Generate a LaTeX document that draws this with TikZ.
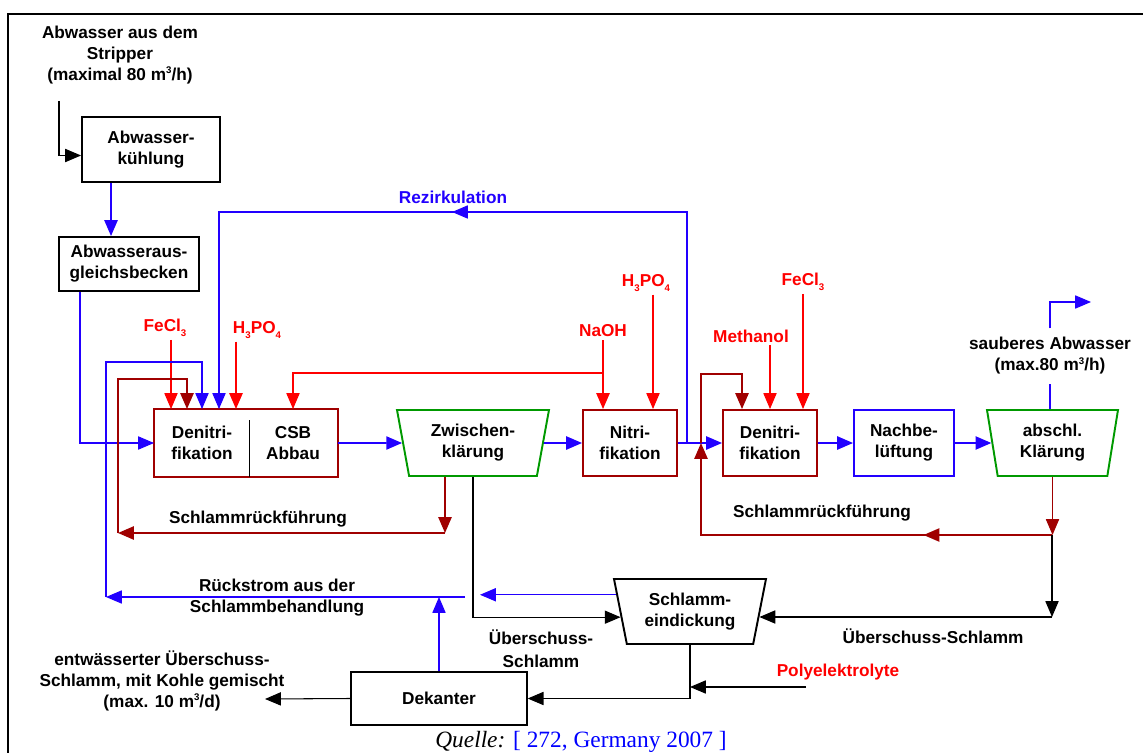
\documentclass[tikz,border=0pt]{standalone}
\usepackage{fontspec}
\setmainfont{Liberation Sans}
\newfontfamily\quellfont{Liberation Serif}
\usetikzlibrary{shapes.geometric,arrows.meta,positioning,calc,decorations.markings}

\definecolor{cfluss}{RGB}{34,0,255}
\definecolor{cdosis}{RGB}{255,0,0}
\definecolor{cschlamm}{RGB}{160,0,0}
\definecolor{cklaer}{RGB}{0,153,0}
\definecolor{cquelle}{RGB}{0,0,255}

% kleine Indizes
\newcommand\tief[1]{\raisebox{-0.55ex}{\fontsize{5.5}{6}\selectfont #1}}
\newcommand\hoch[1]{\raisebox{0.75ex}{\fontsize{5.5}{6}\selectfont #1}}

\tikzset{
  >={Triangle[length=9pt,width=7.5pt]},
  box/.style={draw, rectangle, line width=1.1pt, align=center, inner sep=0pt},
  klaerbecken/.style={trapezium, trapezium left angle=#1, trapezium right angle=#1,
    trapezium stretches body, draw, line width=1.1pt, align=center, inner sep=0pt},
  txt/.style={align=center, inner sep=1.5pt},
  chem/.style={txt, text=cdosis},
  fluss/.style={draw=cfluss, line width=1pt, ->},
  duenn/.style={draw=cfluss, line width=0.6pt, ->},
  dosis/.style={draw=cdosis, line width=0.6pt, ->},
  schlammweg/.style={draw=cschlamm, line width=1pt, ->},
  schwarzweg/.style={draw=black, line width=0.6pt, ->},
  pfeilmitte/.style={postaction={decorate, decoration={markings,
    mark=at position #1 with {\arrow{Triangle[length=9pt,width=7.5pt]}}}}}
}

\begin{document}
\begin{tikzpicture}[x=0.02cm, y=-0.02cm,
  every node/.style={font=\fontsize{9.8}{12}\selectfont\bfseries}]
\path[use as bounding box] (0,0) rectangle (1143,753);
\draw[line width=1.2pt] (1143,14) -- (8,14) -- (8,753);

% Zulauf und Vorbehandlung
\node[txt] (zulauf) at (120,55) {Abwasser aus dem\\Stripper\\(maximal 80 m\hoch{3}/h)};
\node[box, minimum width=2.76cm, minimum height=1.3cm] (kuehlung) at (151,149.5) {Abwasser-\\kühlung};
\node[box, minimum width=2.8cm, minimum height=1.08cm] (ausgleich) at (129,264) {Abwasseraus-\\gleichsbecken};

% Biologische Stufe 1
\node[box, draw=none, minimum width=1.88cm, minimum height=1.32cm] (deni1) at (202,443) {Denitri-\\fikation};
\node[box, draw=none, minimum width=1.76cm, minimum height=1.32cm] (csb) at (293,443) {CSB\\Abbau};
\draw[cschlamm, line width=1.1pt] (deni1.north west) rectangle (csb.south east);
\draw[line width=0.6pt] ([yshift=-0.22cm]deni1.north east) -- (deni1.south east);
\node[klaerbecken=108, draw=cklaer, minimum width=3.04cm, minimum height=1.32cm] (zwk) at (473,443) {Zwischen-\\klärung};

% Biologische Stufe 2
\node[box, draw=cschlamm, minimum width=1.88cm, minimum height=1.32cm] (nitri) at (630,443) {Nitri-\\fikation};
\node[box, draw=cschlamm, minimum width=1.88cm, minimum height=1.32cm] (deni2) at (770,443) {Denitri-\\fikation};
\node[box, draw=cfluss, minimum width=2cm, minimum height=1.32cm] (nachbel) at (904,443) {Nachbe-\\lüftung};
\node[klaerbecken=106, draw=cklaer, minimum width=2.62cm, minimum height=1.32cm] (abk) at (1052.5,443) {abschl.\\Klärung};

% Schlammbehandlung
\node[klaerbecken=109, minimum width=3.04cm, minimum height=1.3cm] (eindick) at (690,611.5) {Schlamm-\\eindickung};
\node[box, line width=0.8pt, minimum width=3.52cm, minimum height=1.06cm] (dekanter) at (439,698.5) {Dekanter};

% Beschriftungen
\node[txt, text=cfluss] (rezi) at (453,197) {Rezirkulation};
\node[chem] (fecl1) at (165,328) {FeCl\tief{3}};
\node[chem] (hpo1) at (257,330) {H\tief{3}PO\tief{4}};
\node[chem] (naoh) at (603,331) {NaOH};
\node[chem] (hpo2) at (646,283) {H\tief{3}PO\tief{4}};
\node[chem] (methanol) at (751,336) {Methanol};
\node[chem] (fecl2) at (803,282) {FeCl\tief{3}};
\node[txt] (sr1) at (258,519) {Schlammrückführung};
\node[txt] (sr2) at (822,513) {Schlammrückführung};
\node[txt, inner sep=5pt] (ablauf) at (1050,356) {sauberes Abwasser\\(max.80 m\hoch{3}/h)};
\node[txt] (rueckstrom) at (277,598) {Rückstrom aus der\\Schlammbehandlung};
\node[txt] (ues1) at (541,649) {Überschuss-\\[1pt]Schlamm};
\node[txt] (ues2) at (933,636) {Überschuss-Schlamm};
\node[chem] (poly) at (838,672) {Polyelektrolyte};
\node[txt] (entw) at (162,681) {entwässerter Überschuss-\\Schlamm, mit Kohle gemischt\\(max. 10 m\hoch{3}/d)};
\node[font=\quellfont\fontsize{13.3}{15}\selectfont, inner sep=0pt] (quelle) at (581,742)
  {\textit{Quelle:} \textcolor{cquelle}{[ 272, Germany 2007 ]}};

% Knickpunkte
\coordinate (zul) at (59,101);
\coordinate (srR) at (445,533);
\coordinate (srL) at (118,533);
\coordinate (rsL) at (106,597);
\coordinate (rsR) at (465,597);
\coordinate (rsM) at (480,595);
\coordinate (rz) at (687,443);
\coordinate (rz2) at (701,443);
\coordinate (sr2R) at (1052,535);
\coordinate (ueR) at (1052,617);
\coordinate (auslauf) at (1091,302);
\coordinate (polyein) at (806,687);
\coordinate (abzug) at (265,699);
\coordinate (eRs) at ($(eindick.top left corner)!0.25!(eindick.bottom left corner)$);
\coordinate (eL) at ($(eindick.top left corner)!0.585!(eindick.bottom left corner)$);
\coordinate (eR) at ($(eindick.top right corner)!0.585!(eindick.bottom right corner)$);

% Hauptstrom
\draw[schwarzweg] (zul) |- ([yshift=-0.12cm]kuehlung.west);
\draw[fluss] ([xshift=-0.8cm]kuehlung.south) -- ([xshift=-0.8cm]kuehlung.south |- ausgleich.north);
\draw[duenn] ([xshift=-0.98cm]ausgleich.south) |- (deni1.west);
\draw[fluss] (csb.east) -- (zwk);
\draw[fluss] (zwk) -- (nitri);
\draw[fluss] (nitri) -- (deni2);
\draw[fluss] (deni2) -- (nachbel);
\draw[fluss] (nachbel) -- (abk);
\draw[duenn, -] (abk.north -| ablauf.south) -- (ablauf.south);
\draw[duenn] (ablauf.north) |- (auslauf);

% Dosierungen
\draw[dosis] ([xshift=-0.62cm]deni1.north |- fecl1.south) -- ([xshift=-0.62cm]deni1.north);
\draw[dosis, line width=1pt] ([xshift=0.68cm]deni1.north |- hpo1.south) -- ([xshift=0.68cm]deni1.north);
\draw[dosis, line width=1pt] ([xshift=-0.54cm]nitri.north |- naoh.south) -- ([xshift=-0.54cm]nitri.north);
\draw[dosis] ([xshift=-0.54cm]nitri.north |- 0,373) -| (csb.north);
\draw[dosis] ([xshift=0.46cm]nitri.north |- hpo2.south) -- ([xshift=0.46cm]nitri.north);
\draw[dosis] (deni2.north |- methanol.south) -- (deni2.north);
\draw[dosis] ([xshift=0.66cm]deni2.north |- fecl2.south) -- ([xshift=0.66cm]deni2.north);

% Rezirkulation und Rueckstrom
\draw[duenn, pfeilmitte=0.52] (rz) -- ++(0,-231) -| ([xshift=0.34cm]deni1.north);
\draw[duenn] (rsR) -- (rsL);
\draw[duenn] (rsL) -- ++(0,-235) -| (deni1.north);
\draw[duenn] (dekanter.north) -- (dekanter.north |- rsL);
\draw[duenn] (eRs) -- (eRs -| rsM);

% Schlammrueckfuehrung
\draw[schlammweg] (srR |- zwk.south) -- (srR);
\draw[schlammweg] (srR) -- (srL);
\draw[schlammweg] (srL) -- ++(0,-154) -| ([xshift=-0.3cm]deni1.north);
\draw[schlammweg, line width=0.6pt] (abk.south) -- (abk.south |- sr2R);
\draw[schlammweg, pfeilmitte=0.29] (sr2R) -| (rz2);
\draw[schlammweg] (rz2) -- ++(0,-69) -| ([xshift=-0.56cm]deni2.north);

% Ueberschussschlamm
\draw[schwarzweg] (zwk.south) |- (eL);
\draw[schwarzweg] (sr2R) -- (ueR);
\draw[schwarzweg] (ueR) -- (ueR -| eR);
\draw[schwarzweg] (eindick.south) |- (dekanter.east);
\draw[schwarzweg] (polyein) -- (polyein -| eindick.south);
\draw[schwarzweg] (dekanter.west) -- (abzug);
\end{tikzpicture}
\end{document}
